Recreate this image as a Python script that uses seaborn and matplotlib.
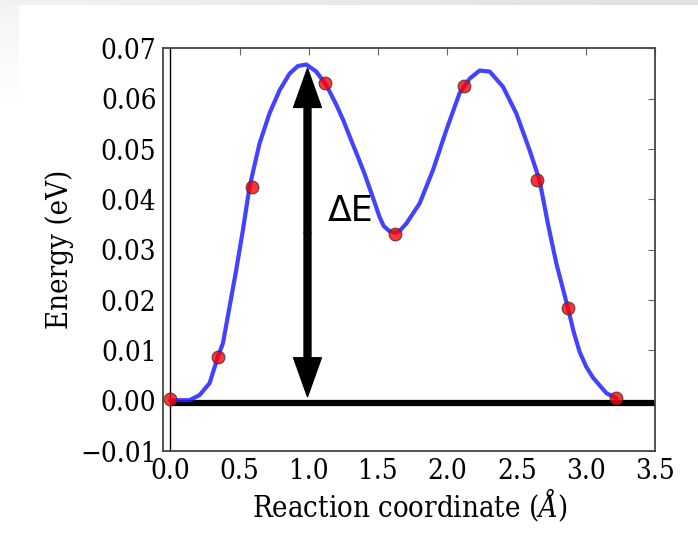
import numpy as np
import pandas as pd
import matplotlib
matplotlib.use("Agg")
import matplotlib.pyplot as plt
import seaborn as sns

# NEB images (red points): reaction coordinate (Å) and energy (eV)
image_x = [0.0, 0.343, 0.592, 1.113, 1.620, 2.118, 2.645, 2.867, 3.218]
image_e = [0.0003, 0.0087, 0.0425, 0.0632, 0.0331, 0.0626, 0.0438, 0.0184, 0.0005]

# fitted energy profile (blue curve)
curve_x = [0.0, 0.139, 0.211, 0.284, 0.343, 0.380, 0.428, 0.476, 0.524, 0.572,
           0.644, 0.716, 0.789, 0.861, 0.921, 0.981, 1.053, 1.126, 1.198, 1.250,
           1.300, 1.350, 1.400, 1.450, 1.510, 1.540, 1.580, 1.620, 1.654, 1.703,
           1.799, 1.895, 1.992, 2.087, 2.160, 2.232, 2.304, 2.400, 2.496, 2.592,
           2.664, 2.724, 2.785, 2.869, 2.910, 2.953, 3.000, 3.049, 3.146, 3.218]
curve_e = [0.0001, 0.0001, 0.0011, 0.0035, 0.0087, 0.0114, 0.0187, 0.0260, 0.0339, 0.0425,
           0.0511, 0.0571, 0.0617, 0.0650, 0.0665, 0.0668, 0.0654, 0.0627, 0.0588, 0.0556,
           0.0521, 0.0487, 0.0452, 0.0413, 0.0365, 0.0347, 0.0337, 0.0334, 0.0337, 0.0352,
           0.0392, 0.0458, 0.0538, 0.0611, 0.0640, 0.0656, 0.0654, 0.0624, 0.0571, 0.0498,
           0.0438, 0.0352, 0.0273, 0.0184, 0.0137, 0.0097, 0.0068, 0.0046, 0.0015, 0.0005]

xtick_values = [0.0, 0.5, 1.0, 1.5, 2.0, 2.5, 3.0, 3.5]
ytick_values = [-0.01, 0.0, 0.01, 0.02, 0.03, 0.04, 0.05, 0.06, 0.07]
baseline_e = -0.0005
barrier_x = 0.99
barrier_top = 0.0660
barrier_bottom = 0.0008
barrier_label = "ΔE"
label_x, label_e = 1.135, 0.0357

sns.set_style("white")
plt.rcParams["font.family"] = ["DejaVu Serif"]
plt.rcParams["font.stretch"] = "condensed"
plt.rcParams["mathtext.fontset"] = "dejavuserif"
for k in ["text.color", "axes.labelcolor", "xtick.color", "ytick.color"]:
    plt.rcParams[k] = "black"

fig = plt.figure(figsize=(6.98, 5.5), dpi=100)

# light grey screenshot frame in the top-left corner
H, W = 550, 698
bg = np.ones((H, W, 3))
cols = np.linspace(0.95, 0.88, W)
bg[0:5, :, :] = cols[None, :, None]
fade = np.clip(np.linspace(0.955, 1.2, H), 0, 1)
bg[5:, 0:19, :] = fade[5:, None, None]
fig.figimage(bg, xo=0, yo=0, origin="upper", zorder=-10)

ax = fig.add_axes([0.234, 0.18, 0.705, 0.732])

curve_df = pd.DataFrame({"x": curve_x, "e": curve_e})
image_df = pd.DataFrame({"x": image_x, "e": image_e})

# vertical reference line at x = 0 and thick zero baseline
ax.axvline(xtick_values[0], color="black", lw=1.0, zorder=1)
ax.plot([xtick_values[0], xtick_values[-1]], [baseline_e, baseline_e],
        color="black", lw=4.5, zorder=1, solid_capstyle="butt")

sns.lineplot(data=curve_df, x="x", y="e", ax=ax, color="#2222ff", alpha=0.85,
             lw=3, sort=False, estimator=None, zorder=2)
sns.scatterplot(data=image_df, x="x", y="e", ax=ax, color="red", alpha=0.8,
                s=85, edgecolor="#333333", linewidth=0.8, zorder=3)

# barrier arrow (double headed)
mid = (barrier_top + barrier_bottom) / 2
arrow_kw = dict(facecolor="black", edgecolor="black", width=5, headwidth=20,
                headlength=28, shrink=0)
ax.annotate("", xy=(barrier_x, barrier_top), xytext=(barrier_x, mid), arrowprops=arrow_kw, zorder=4)
ax.annotate("", xy=(barrier_x, barrier_bottom), xytext=(barrier_x, mid), arrowprops=arrow_kw, zorder=4)
ax.text(label_x, label_e, barrier_label, fontsize=25, family=["DejaVu Sans"],
        fontstretch="normal", ha="left", va="baseline", zorder=5)

ax.set_xlim(-0.05, 3.5)
ax.set_ylim(-0.01, 0.07)
ax.set_xticks(xtick_values)
ax.set_yticks(ytick_values)
ax.set_xticklabels([f"{v:.1f}" for v in xtick_values])
ax.set_yticklabels([f"{v:.2f}".replace("-", "\u2212") for v in ytick_values])
ax.tick_params(direction="in", top=True, right=True, length=5, width=0.8,
               color="#666666", labelsize=20, pad=5)
for s in ax.spines.values():
    s.set_color("#444444")
    s.set_linewidth(1.3)

ax.set_xlabel(r"Reaction coordinate ($\AA$)", fontsize=21, labelpad=1)
ax.set_ylabel("Energy (eV)", fontsize=21, labelpad=4)

fig.savefig("out.png", dpi=100)
